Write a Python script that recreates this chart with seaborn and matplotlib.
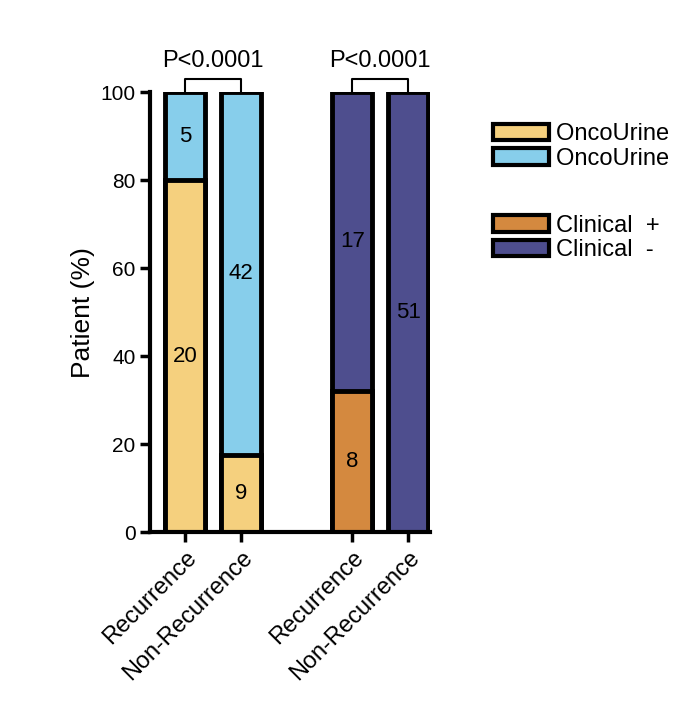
import numpy as np
import pandas as pd
import matplotlib
matplotlib.use("Agg")
import matplotlib.pyplot as plt
import seaborn as sns
from matplotlib.patches import Patch

# Data
groups = ["Recurrence", "Non-Recurrence", "Recurrence", "Non-Recurrence"]
positions = [0, 1, 3, 4]
pos_counts = [20, 9, 8, 0]
neg_counts = [5, 42, 17, 51]
p_labels = ["P<0.0001", "P<0.0001"]

pos_colors = ["#F5D07E", "#F5D07E", "#D4893F", "#D4893F"]
neg_colors = ["#87CEEB", "#87CEEB", "#4E4E8E", "#4E4E8E"]

totals = np.array(pos_counts) + np.array(neg_counts)
pos_pct = 100 * np.array(pos_counts) / totals

df = pd.DataFrame({"x": positions, "total": 100.0, "pos": pos_pct})

sns.set_style("ticks")
plt.rcParams.update({"font.family": "Liberation Sans", "text.color": "black",
                     "axes.labelcolor": "black", "xtick.color": "black",
                     "ytick.color": "black", "axes.edgecolor": "black"})
fig = plt.figure(figsize=(6.83, 7.04), dpi=100)
ax = fig.add_axes([0.22, 0.244, 0.41, 0.625])

sns.barplot(data=df, x="x", y="total", hue="x", palette=dict(zip(positions, neg_colors)),
            native_scale=True, width=0.72, saturation=1, edgecolor="black", linewidth=3.5,
            legend=False, ax=ax)
sns.barplot(data=df, x="x", y="pos", hue="x", palette=dict(zip(positions, pos_colors)),
            native_scale=True, width=0.72, saturation=1, edgecolor="black", linewidth=3.5,
            legend=False, ax=ax)

# Count labels
for x, pc, nc, pp in zip(positions, pos_counts, neg_counts, pos_pct):
    if pc > 0:
        ax.text(x, pp / 2, str(pc), ha="center", va="center", fontsize=16)
    ax.text(x, pp + (100 - pp) / 2 if pc > 0 else 50, str(nc), ha="center", va="center", fontsize=16)

# Significance brackets
for (a, b), lab in zip([(0, 1), (3, 4)], p_labels):
    ax.plot([a, a, b, b], [100, 103, 103, 100], color="black", lw=1.5, clip_on=False)
    ax.text((a + b) / 2, 104.5, lab, ha="center", va="bottom", fontsize=17)

ax.set_xlim(-0.63, 4.4)
ax.set_ylim(0, 100)
ax.set_yticks([0, 20, 40, 60, 80, 100])
ax.set_xticks(positions)
ax.set_xticklabels(groups, rotation=45, ha="right", rotation_mode="anchor", fontsize=17)
ax.tick_params(axis="y", labelsize=15, width=2.5, length=7)
ax.tick_params(axis="x", width=2.5, length=7)
ax.set_xlabel("")
ax.set_ylabel("Patient (%)", fontsize=19)
for s in ["top", "right"]:
    ax.spines[s].set_visible(False)
for s in ["left", "bottom"]:
    ax.spines[s].set_linewidth(3)

h1 = [Patch(facecolor=pos_colors[0], edgecolor="black", lw=3),
      Patch(facecolor=neg_colors[0], edgecolor="black", lw=3)]
h2 = [Patch(facecolor=pos_colors[2], edgecolor="black", lw=3),
      Patch(facecolor=neg_colors[2], edgecolor="black", lw=3)]
fig.legend(h1, ["OncoUrine  +", "OncoUrine  -"], loc="upper left",
           bbox_to_anchor=(0.69, 0.855), frameon=False, fontsize=17,
           handlelength=2.4, handleheight=0.7, labelspacing=0.1, handletextpad=0.3)
fig.legend(h2, ["Clinical  +", "Clinical  -"], loc="upper left",
           bbox_to_anchor=(0.69, 0.725), frameon=False, fontsize=17,
           handlelength=2.4, handleheight=0.7, labelspacing=0.1, handletextpad=0.3)

fig.savefig("out.png", dpi=100)
